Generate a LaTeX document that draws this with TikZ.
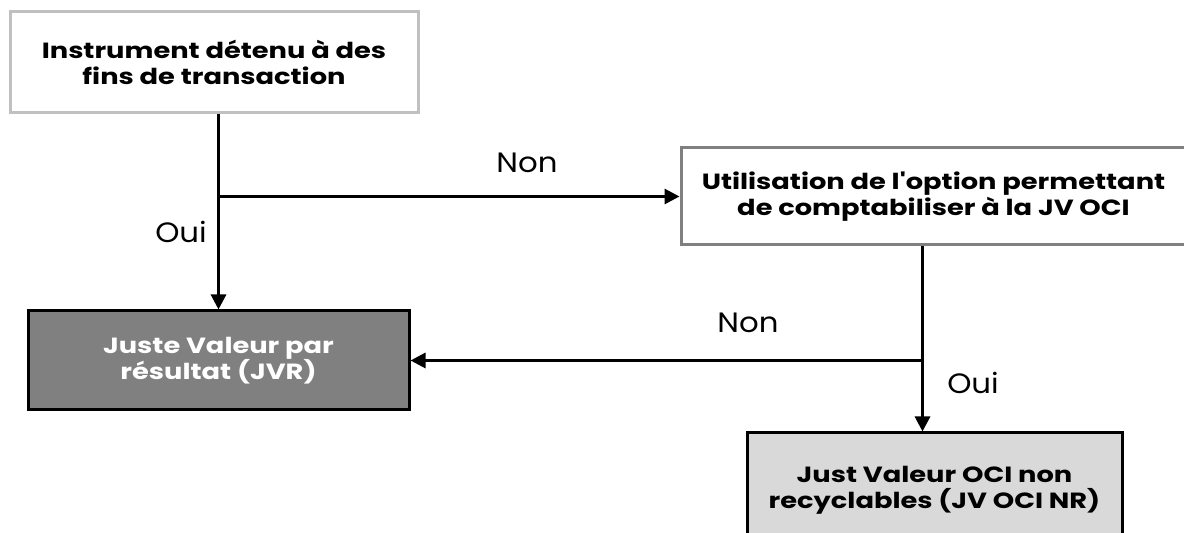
\documentclass[tikz,border=0pt]{standalone}
\usepackage{fontspec}
\setmainfont{Poppins}
\newfontfamily\boxfont[FakeStretch=1.24]{Poppins}
\newfontfamily\lblfont[FakeStretch=1.1]{Poppins}
\usepackage{xcolor}
\usepackage{tikz}
\usetikzlibrary{arrows.meta, positioning}

\definecolor{lightframe}{HTML}{C0C0C0}
\definecolor{midframe}{HTML}{808080}
\definecolor{darkfill}{HTML}{808080}
\definecolor{lightfill}{HTML}{D9D9D9}

\begin{document}
\begin{tikzpicture}[
  box/.style={rectangle, draw, line width=1.5pt, align=center, inner sep=0pt,
    font=\boxfont\bfseries\fontsize{11}{13}\selectfont},
  srcbox/.style={box, draw=lightframe, fill=white, minimum width=204pt, minimum height=50.5pt},
  optbox/.style={box, draw=midframe, fill=white, minimum width=252.5pt, minimum height=48.5pt},
  resbox/.style={box, draw=black, fill=darkfill, text=white, minimum width=190.5pt, minimum height=49.5pt},
  ocibox/.style={box, draw=black, fill=lightfill, minimum width=187.5pt, minimum height=57.5pt},
  lbl/.style={font=\lblfont\fontsize{14}{16}\selectfont},
  arrow/.style={line width=1.5pt, -{Triangle[length=7.5pt, width=7.5pt]}}
]
  \path[use as bounding box, clip] (0,0) rectangle (592pt,-266.5pt);

  \node[srcbox] (instr) at (107pt,-31.25pt) {Instrument détenu à des\\fins de transaction};
  \node[resbox, below=97.5pt of instr, xshift=2.25pt] (jvr) {Juste Valeur par\\résultat (JVR)};
  \node[optbox, right=130pt of instr, yshift=-67pt] (option) {Utilisation de l'option permettant\\de comptabiliser à la JV OCI};
  \node[ocibox, below=92.5pt of option, xshift=0.5pt] (oci) {Just Valeur OCI non\\recyclables (JV OCI NR)};

  % branch points on the vertical lines
  \coordinate (fork1) at (jvr.north |- option.west);
  \coordinate (stem2) at ([xshift=-5.5pt]option.south);
  \coordinate (fork2) at (stem2 |- jvr.east);

  \draw[arrow] (jvr.north |- instr.south) -- (jvr.north);
  \draw[arrow] (fork1) -- (option.west);
  \draw[arrow] (stem2) -- (stem2 |- oci.north);
  \draw[arrow] (fork2) -- (jvr.east);

  \node[lbl] (non1) at (263.5pt,-81.5pt) {Non};
  \node[lbl] (oui1) at (90.5pt,-116pt) {Oui};
  \node[lbl] (non2) at (374pt,-161.5pt) {Non};
  \node[lbl] (oui2) at (486.5pt,-191.5pt) {Oui};
\end{tikzpicture}
\end{document}
